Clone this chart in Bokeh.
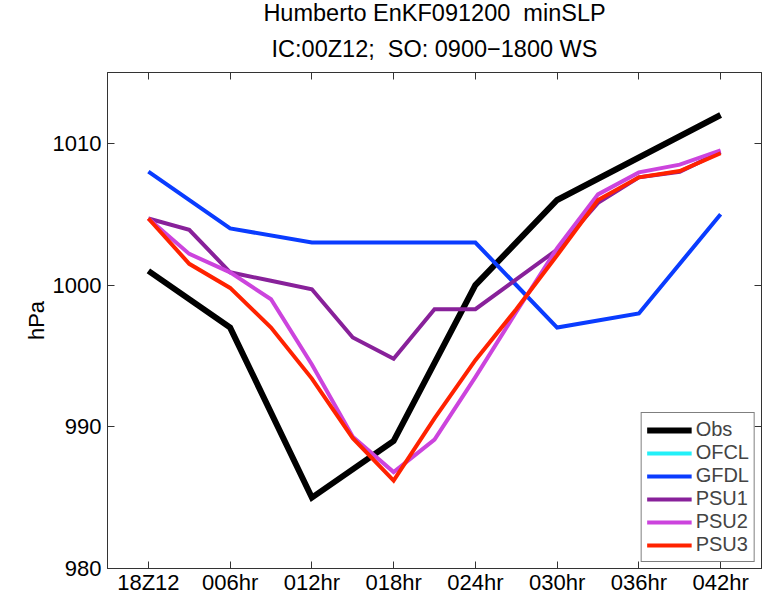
from bokeh.plotting import figure
from bokeh.models import LinearAxis, Title, Legend, LegendItem, FixedTicker, Range1d
from bokeh.embed import file_html
from bokeh.resources import INLINE

# ---- data ----
tick_hours = [0, 6, 12, 18, 24, 30, 36, 42]
tick_labels = ["18Z12", "006hr", "012hr", "018hr", "024hr", "030hr", "036hr", "042hr"]
y_ticks = [980, 990, 1000, 1010]

obs_hours = [0, 6, 12, 18, 24, 30, 36, 42]
obs = [1001, 997, 985, 989, 1000, 1006, 1009, 1012]

# OFCL is listed in the legend but has no values drawn
ofcl_hours = [0, 6, 12, 18, 24, 30, 36, 42]
ofcl = [float("nan")] * 8

gfdl_hours = [0, 6, 12, 18, 24, 30, 36, 42]
gfdl = [1008, 1004, 1003, 1003, 1003, 997, 998, 1005]

psu_hours = [0, 3, 6, 9, 12, 15, 18, 21, 24, 27, 30, 33, 36, 39, 42]
psu1 = [1004.7, 1003.9, 1000.9, 1000.3, 999.7, 996.3, 994.8, 998.3, 998.3, 1000.4, 1002.5, 1005.8, 1007.6, 1008.0, 1009.4]
psu2 = [1004.7, 1002.2, 1000.9, 999.0, 994.4, 989.3, 986.8, 989.1, 993.5, 998.1, 1002.6, 1006.4, 1007.95, 1008.5, 1009.5]
psu3 = [1004.7, 1001.5, 999.8, 997.0, 993.4, 989.2, 986.2, 990.6, 994.7, 998.3, 1002.1, 1006.0, 1007.6, 1008.05, 1009.3]

FONT = "Liberation Sans"
AX = "#333333"

p = figure(width=763, height=597, output_backend="svg", toolbar_location=None,
           x_range=Range1d(-3, 45), y_range=Range1d(980, 1015),
           min_border_left=107, min_border_right=2, min_border_bottom=24, min_border_top=10)
p.grid.visible = False
p.outline_line_color = AX
p.background_fill_color = "white"

for ax in [p.xaxis[0], p.yaxis[0]]:
    ax.major_tick_in = 7
    ax.major_tick_out = 0
    ax.minor_tick_line_color = None
    ax.axis_line_color = AX
    ax.major_tick_line_color = AX
    ax.major_label_text_font = FONT
    ax.major_label_text_font_size = "22px"
    ax.major_label_text_color = "black"

p.xaxis[0].ticker = FixedTicker(ticks=tick_hours)
p.xaxis[0].major_label_overrides = {h: l for h, l in zip(tick_hours, tick_labels)}
p.xaxis[0].major_label_standoff = 1
p.yaxis[0].ticker = FixedTicker(ticks=y_ticks)
p.yaxis[0].major_label_standoff = 6
p.yaxis[0].axis_label = "hPa"
p.yaxis[0].axis_label_text_font = FONT
p.yaxis[0].axis_label_text_font_size = "22px"
p.yaxis[0].axis_label_text_font_style = "normal"
p.yaxis[0].axis_label_text_color = "black"
p.yaxis[0].axis_label_standoff = 1

top_ax = LinearAxis(ticker=FixedTicker(ticks=tick_hours), major_tick_in=7, major_tick_out=0,
                    minor_tick_line_color=None, major_label_text_font_size="0px",
                    major_label_overrides={h: "" for h in tick_hours},
                    axis_line_color=AX, major_tick_line_color=AX,
                    major_label_standoff=0)
right_ax = LinearAxis(ticker=FixedTicker(ticks=y_ticks), major_tick_in=7, major_tick_out=0,
                      minor_tick_line_color=None, major_label_text_font_size="0px",
                      major_label_overrides={t: "" for t in y_ticks},
                      axis_line_color=AX, major_tick_line_color=AX,
                      major_label_standoff=0)
p.add_layout(top_ax, "above")
p.add_layout(right_ax, "right")

NB = "\u00a0"
p.add_layout(Title(text="IC:00Z12;" + NB + " SO: 0900\u22121800 WS", align="center",
                   text_font=FONT, text_font_size="23.5px", text_font_style="normal",
                   text_color="black", standoff=21), "above")
p.add_layout(Title(text="Humberto EnKF091200" + NB + " minSLP", align="center",
                   text_font=FONT, text_font_size="23.5px", text_font_style="normal",
                   text_color="black", standoff=-5), "above")

r_obs = p.line(obs_hours, obs, line_color="black", line_width=6, line_join="miter")
r_ofcl = p.line(ofcl_hours, ofcl, line_color="#22f0f8", line_width=4)
r_gfdl = p.line(gfdl_hours, gfdl, line_color="#0a3cff", line_width=4, line_join="miter")
r_p1 = p.line(psu_hours, psu1, line_color="#88219a", line_width=4, line_join="miter")
r_p2 = p.line(psu_hours, psu2, line_color="#cc44dd", line_width=4, line_join="miter")
r_p3 = p.line(psu_hours, psu3, line_color="#ff2200", line_width=4, line_join="miter")

legend = Legend(items=[
    LegendItem(label="Obs", renderers=[r_obs]),
    LegendItem(label="OFCL", renderers=[r_ofcl]),
    LegendItem(label="GFDL", renderers=[r_gfdl]),
    LegendItem(label="PSU1", renderers=[r_p1]),
    LegendItem(label="PSU2", renderers=[r_p2]),
    LegendItem(label="PSU3", renderers=[r_p3]),
], location="bottom_right")
legend.label_text_font = FONT
legend.label_text_font_size = "20px"
legend.glyph_width = 45
legend.glyph_height = 18
legend.label_height = 18
legend.spacing = 0
legend.padding = 5
legend.margin = 6
legend.label_standoff = 4
legend.border_line_color = "black"
legend.border_line_width = 1
legend.background_fill_alpha = 1.0
p.add_layout(legend)

open("out.html", "w").write(file_html(p, INLINE))
